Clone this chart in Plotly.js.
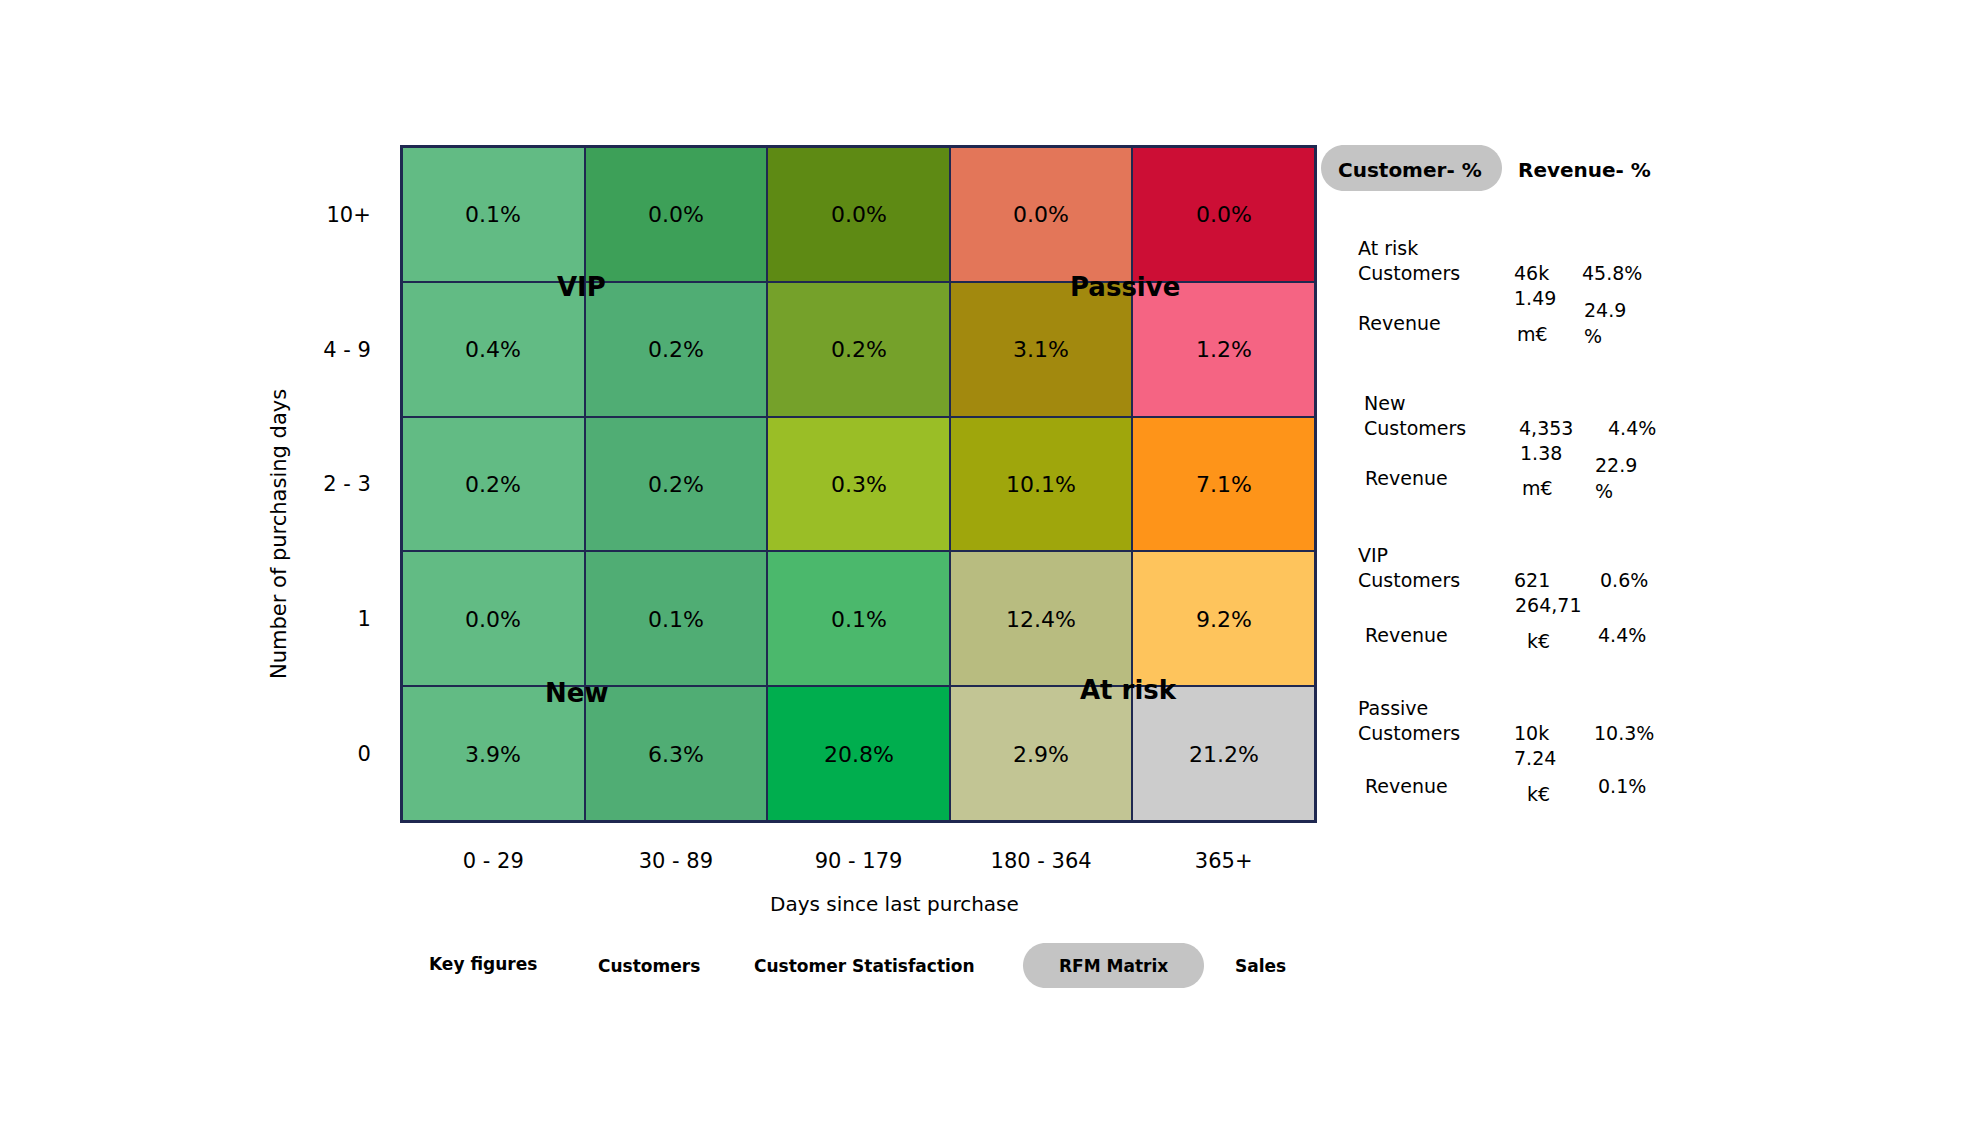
<!DOCTYPE html>
<html>
<head>
<meta charset="utf-8">
<script src="https://cdn.plot.ly/plotly-3.0.1.min.js"></script>
<style>html,body{margin:0;padding:0;background:#fff;}#chart{width:1971px;height:1134px;}</style>
</head>
<body>
<div id="chart"></div>
<script>
// ---------------- DATA ----------------
const dayBins = ['0 - 29', '30 - 89', '90 - 179', '180 - 364', '365+'];
const freqBins = ['0', '1', '2 - 3', '4 - 9', '10+'];          // bottom to top
// customer share (%) per cell, rows follow freqBins (bottom to top)
const pctRow0   = [3.9, 6.3, 20.8, 2.9, 21.2];
const pctRow1   = [0.0, 0.1, 0.1, 12.4, 9.2];
const pctRow23  = [0.2, 0.2, 0.3, 10.1, 7.1];
const pctRow49  = [0.4, 0.2, 0.2, 3.1, 1.2];
const pctRow10p = [0.1, 0.0, 0.0, 0.0, 0.0];
const segmentNames = ['VIP', 'Passive', 'New', 'At risk'];

// right-hand summary panel
const panelSegments   = ['At risk', 'New', 'VIP', 'Passive'];
const panelCustCount  = ['46k', '4,353', '621', '10k'];
const panelCustPct    = ['45.8%', '4.4%', '0.6%', '10.3%'];
const panelRevValue   = ['1.49', '1.38', '264,71', '7.24'];
const panelRevUnit    = ['m€', 'm€', 'k€', 'k€'];
const panelRevPct     = ['24.9 %', '22.9 %', '4.4%', '0.1%'];
const toggleLabels    = ['Customer- %', 'Revenue- %'];
const navLabels       = ['Key figures', 'Customers', 'Customer Statisfaction', 'RFM Matrix', 'Sales'];

// ---------------- STYLE ----------------
const cellPalette = [
  ['#62BB84', '#50AD74', '#00AE4E', '#C2C594', '#CCCCCC'],
  ['#62BB84', '#50AD74', '#4BB86C', '#B8BC80', '#FEC45C'],
  ['#62BB84', '#50AD74', '#9ABE26', '#9FA60C', '#FE9419'],
  ['#62BB84', '#50AD74', '#75A12A', '#A2890E', '#F56483'],
  ['#62BB84', '#3DA058', '#5E8A14', '#E37659', '#CC0E35']
];
const NAVY = '#1F2850';
const W = 1971, H = 1134;
const FONT = 'DejaVu Sans, Verdana, sans-serif';
const px = x => x / W;
const py = y => 1 - y / H;

// ---------------- BUILD ----------------
const pctRows = [pctRow0, pctRow1, pctRow23, pctRow49, pctRow10p];
const nC = dayBins.length, nR = freqBins.length, nCells = nC * nR;
const zIdx = pctRows.map((row, r) => row.map((v, c) => r * nC + c));
const txt = pctRows.map(row => row.map(v => v.toFixed(1) + '%'));
const colorscale = [];
cellPalette.forEach((row, r) => row.forEach((col, c) => {
  const i = r * nC + c;
  colorscale.push([i / nCells, col]);
  colorscale.push([(i + 1) / nCells, col]);
}));

const heat = {
  type: 'heatmap',
  x: dayBins, y: freqBins, z: zIdx,
  zmin: -0.5, zmax: nCells - 0.5,
  colorscale: colorscale, showscale: false,
  xgap: 2, ygap: 2,
  text: txt, texttemplate: '%{text}',
  textfont: {family: FONT, size: 22, color: '#000'},
  hoverinfo: 'skip'
};

const annotations = [];
// segment labels at quadrant corners
const segPos = [
  {x: 0.5, y: 3.5, xs: -3, ys: -5},
  {x: 3.5, y: 3.5, xs: -7, ys: -5},
  {x: 0.5, y: 0.5, xs: -8, ys: -7},
  {x: 3.5, y: 0.5, xs: -4, ys: -4}
];
segmentNames.forEach((s, i) => annotations.push({
  xref: 'x', yref: 'y', x: segPos[i].x, y: segPos[i].y, xshift: segPos[i].xs, yshift: segPos[i].ys,
  xanchor: 'center', yanchor: 'middle',
  text: '<b>' + s + '</b>', showarrow: false,
  font: {family: FONT, size: 26, color: '#000'}
}));

function centered(x, y, t, font, extra) {
  annotations.push(Object.assign({xref: 'paper', yref: 'paper', x: px(x), y: py(y),
    xanchor: 'center', yanchor: 'middle', text: t, showarrow: false, font: font}, extra || {}));
}

// axis titles
centered(894, 904, 'Days since last purchase', {family: FONT, size: 20, color: '#000'});
centered(279, 534, 'Number of purchasing days', {family: FONT, size: 21, color: '#000'}, {textangle: -90});

// toggle header
const togglePos = [1410, 1584];
toggleLabels.forEach((t, i) => centered(togglePos[i], 170, '<b>' + t + '</b>', {family: FONT, size: 20, color: '#000'}));

// summary panel
const blockY = [248, 403, 555, 708];
const blockLayout = [
  {lx: 1356, rl: 1356, cx: 1512, px_: 1580, vx: 1512, ux: 1515, rpx: 1582, revY: 75, unitY: 86, rpY: 62},
  {lx: 1362, rl: 1363, cx: 1517, px_: 1606, vx: 1518, ux: 1520, rpx: 1593, revY: 75, unitY: 85, rpY: 62},
  {lx: 1356, rl: 1363, cx: 1512, px_: 1598, vx: 1513, ux: 1525, rpx: 1596, revY: 80, unitY: 86, rpY: 80},
  {lx: 1356, rl: 1363, cx: 1512, px_: 1592, vx: 1512, ux: 1525, rpx: 1596, revY: 78, unitY: 86, rpY: 78}
];
const pf = {family: FONT, size: 19, color: '#000'};
function addText(x, y, t) {
  annotations.push({xref: 'paper', yref: 'paper', x: px(x), y: py(y), xanchor: 'left', yanchor: 'middle',
    text: t, showarrow: false, font: pf});
}
panelSegments.forEach((s, i) => {
  const b = blockY[i], L = blockLayout[i];
  addText(L.lx, b, s);
  addText(L.lx, b + 25, 'Customers');
  addText(L.cx, b + 25, panelCustCount[i]);
  addText(L.px_, b + 25, panelCustPct[i]);
  addText(L.vx, b + 50, panelRevValue[i]);
  addText(L.rl, b + L.revY, 'Revenue');
  addText(L.ux, b + L.unitY, panelRevUnit[i]);
  const parts = panelRevPct[i].split(' ');
  if (parts.length > 1) {
    addText(L.rpx, b + L.rpY, parts[0]);
    addText(L.rpx, b + L.rpY + 26, parts[1]);
  } else {
    addText(L.rpx, b + L.rpY, parts[0]);
  }
});

// bottom navigation
const navX = [483, 649, 864, 1113, 1260];
const navY = [964, 966, 966, 966, 966];
navLabels.forEach((t, i) => centered(navX[i], navY[i], '<b>' + t + '</b>', {family: FONT, size: 17, color: '#000'}));

// rounded pill shapes
function pill(x0, y0, x1, y1) {
  const r = (y1 - y0) / 2, k = 0.5523 * r;
  const P = (x, y) => px(x) + ',' + py(y);
  const d = 'M' + P(x0 + r, y0) + ' L' + P(x1 - r, y0) +
    ' C' + P(x1 - r + k, y0) + ' ' + P(x1, y0 + r - k) + ' ' + P(x1, y0 + r) +
    ' C' + P(x1, y0 + r + k) + ' ' + P(x1 - r + k, y1) + ' ' + P(x1 - r, y1) +
    ' L' + P(x0 + r, y1) +
    ' C' + P(x0 + r - k, y1) + ' ' + P(x0, y0 + r + k) + ' ' + P(x0, y0 + r) +
    ' C' + P(x0, y0 + r - k) + ' ' + P(x0 + r - k, y0) + ' ' + P(x0 + r, y0) + ' Z';
  return {type: 'path', xref: 'paper', yref: 'paper', path: d, fillcolor: '#C4C4C4',
    line: {width: 0}, layer: 'below'};
}

const layout = {
  width: W, height: H,
  margin: {l: 0, r: 0, t: 0, b: 0},
  paper_bgcolor: '#ffffff',
  plot_bgcolor: NAVY,
  showlegend: false,
  font: {family: FONT, color: '#000'},
  xaxis: {
    domain: [px(402), px(1315)], range: [-0.5, 4.5], type: 'category',
    showgrid: false, zeroline: false, ticks: '', ticklabelstandoff: 20,
    tickfont: {family: FONT, size: 21, color: '#000'},
    showline: true, mirror: true, linecolor: NAVY, linewidth: 2, automargin: false, fixedrange: true
  },
  yaxis: {
    domain: [py(821), py(147)], range: [-0.5, 4.5], type: 'category',
    showgrid: false, zeroline: false, ticks: '', ticklabelstandoff: 25,
    tickfont: {family: FONT, size: 21, color: '#000'},
    showline: true, mirror: true, linecolor: NAVY, linewidth: 2, automargin: false, fixedrange: true
  },
  annotations: annotations,
  shapes: [pill(1321, 145, 1502, 191), pill(1023, 943, 1204, 988)]
};

Plotly.newPlot('chart', [heat], layout, {displayModeBar: false, staticPlot: true});
</script>
</body>
</html>
